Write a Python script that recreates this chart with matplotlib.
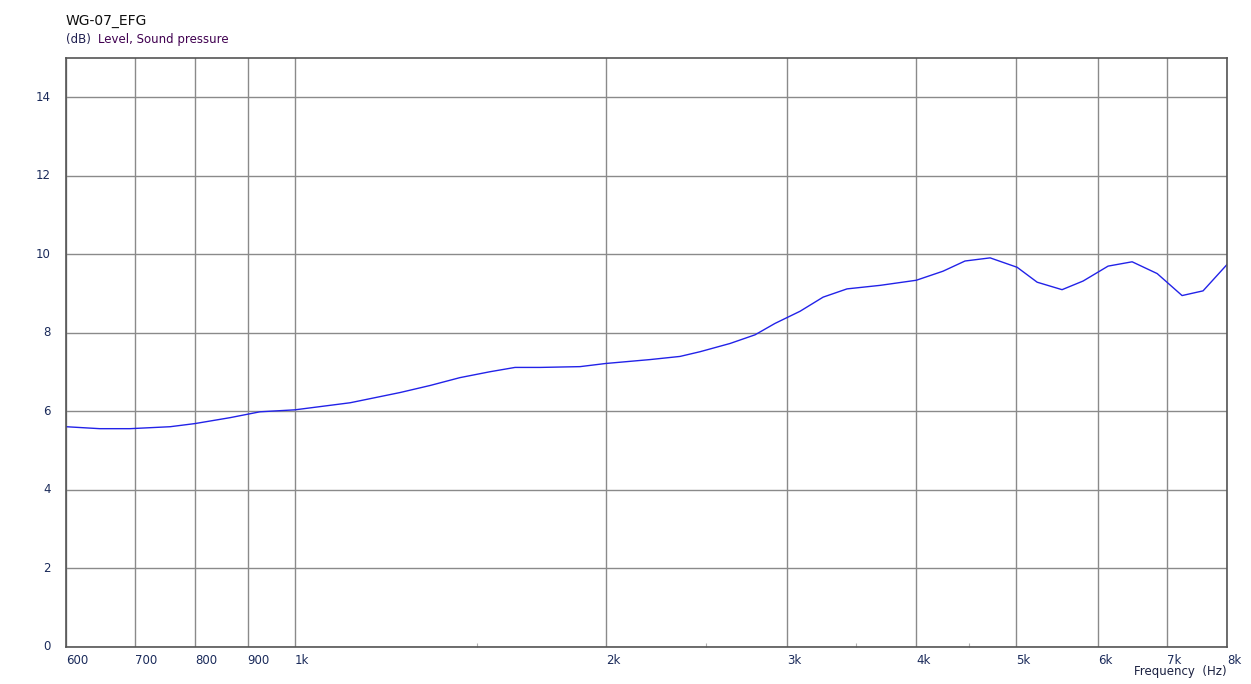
import matplotlib.pyplot as plt
from matplotlib.ticker import FixedLocator, NullFormatter

# frequency response
freq_hz = [600, 647, 692, 757, 800, 865, 925, 1000, 1131, 1264, 1352, 1445,
           1545, 1634, 1728, 1889, 2000, 2209, 2361, 2469, 2640, 2791, 2918,
           3086, 3249, 3427, 3690, 4000, 4245, 4459, 4716, 5009, 5238, 5537,
           5803, 6136, 6474, 6846, 7237, 7584, 8000]
level_db = [5.61, 5.56, 5.56, 5.61, 5.69, 5.84, 5.99, 6.04, 6.22, 6.48, 6.66,
            6.86, 7.01, 7.12, 7.12, 7.14, 7.22, 7.32, 7.40, 7.52, 7.73, 7.95,
            8.24, 8.55, 8.91, 9.12, 9.21, 9.34, 9.57, 9.83, 9.91, 9.67, 9.29,
            9.10, 9.32, 9.70, 9.81, 9.51, 8.95, 9.07, 9.74]

x_ticks = [600, 700, 800, 900, 1000, 2000, 3000, 4000, 5000, 6000, 7000, 8000]
x_tick_labels = ["600", "700", "800", "900", "1k", "2k", "3k", "4k", "5k",
                 "6k", "7k", "8k"]
x_minor = [1500, 2500, 3500, 4500]
y_ticks = [0, 2, 4, 6, 8, 10, 12, 14]

TICK_COLOR = "#1a2a5a"

fig = plt.figure(figsize=(12.51, 6.84), dpi=100)
ax = fig.add_axes([66 / 1251, 1 - 647 / 684, (1227 - 66) / 1251, (647 - 58) / 684])

ax.plot(freq_hz, level_db, color="#2222e8", linewidth=1.0)

ax.set_xscale("log")
ax.set_xlim(600, 8000)
ax.set_ylim(0, 15)

ax.xaxis.set_major_locator(FixedLocator(x_ticks))
ax.xaxis.set_minor_locator(FixedLocator(x_minor))
ax.xaxis.set_minor_formatter(NullFormatter())
ax.set_xticklabels([])
ax.set_yticks(y_ticks)
ax.set_yticklabels([])

ax.grid(True, which="major", color="#8a8a8a", linewidth=1.0)
ax.tick_params(which="major", length=0)
ax.tick_params(which="minor", axis="x", direction="in", length=3,
               color="#b0b0b0", width=0.8)
for spine in ax.spines.values():
    spine.set_color("#555555")
    spine.set_linewidth(1.2)

# tick labels placed like the measurement software does
for f, lab in zip(x_ticks, x_tick_labels):
    ax.annotate(lab, xy=(f, 0), xycoords="data", xytext=(0, -5),
                textcoords="offset points", ha="left", va="top",
                fontsize=8.5, color=TICK_COLOR)
for v in y_ticks:
    ax.annotate(str(v), xy=(600, v), xycoords="data", xytext=(-11, 0),
                textcoords="offset points", ha="right", va="center",
                fontsize=8.5, color=TICK_COLOR)

fig.text(1227 / 1251, 1 - 672 / 684, "Frequency  (Hz)", ha="right",
         va="center", fontsize=8.5, color="#1a2040")
fig.text(66 / 1251, 1 - 21 / 684, "WG-07_EFG", ha="left", va="center",
         fontsize=10, color="#101010")
fig.text(66 / 1251, 1 - 40 / 684, "(dB)", ha="left", va="center",
         fontsize=8.5, color="#202050")
fig.text(98 / 1251, 1 - 40 / 684, "Level, Sound pressure", ha="left",
         va="center", fontsize=8.5, color="#400050")

fig.savefig("out.png", dpi=100)
plt.close(fig)
